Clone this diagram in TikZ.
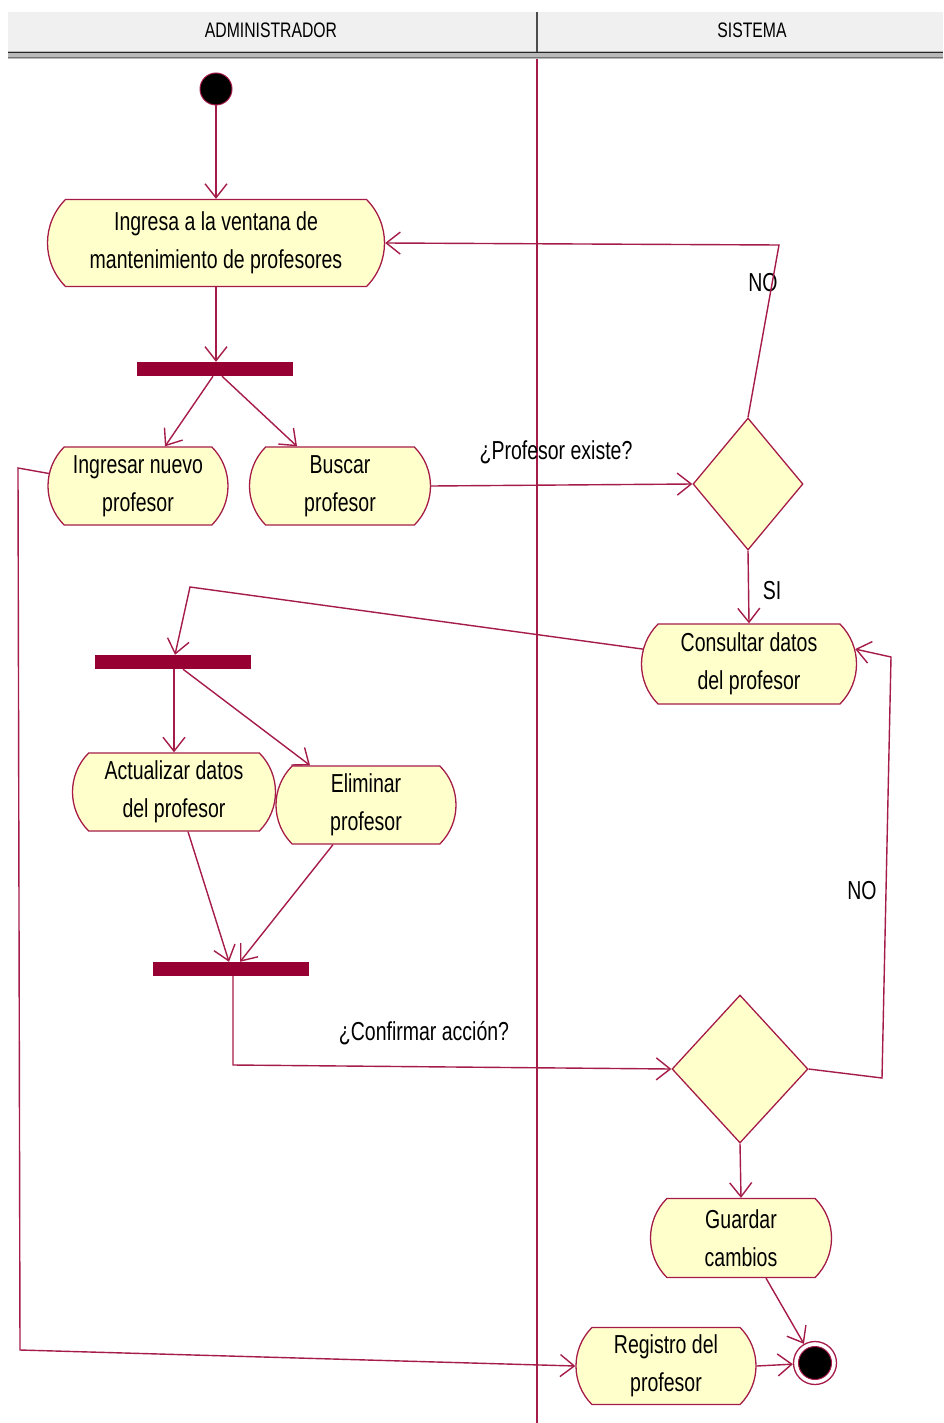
\documentclass[tikz,border=0pt]{standalone}
\usepackage{fontspec}
\setmainfont[FakeStretch=0.75]{Liberation Sans}
\usetikzlibrary{shapes.misc,shapes.geometric,arrows.meta}
\definecolor{ln}{RGB}{165,28,72}
\definecolor{barc}{RGB}{150,0,50}
\definecolor{act}{RGB}{255,255,204}
\definecolor{hdr}{RGB}{240,240,240}
\begin{document}
\begin{tikzpicture}[x=1pt,y=-1pt,
 activity/.style={draw=ln, fill=act, line width=1.3pt, rounded rectangle, rounded rectangle arc length=90, inner sep=0pt, align=center, font=\fontsize{26}{38}\selectfont},
 decision/.style={draw=ln, fill=act, diamond, line width=1.3pt, inner sep=0pt},
 forkbar/.style={fill=barc, minimum width=156pt, minimum height=14pt, inner sep=0pt},
 arr/.style={draw=ln, line width=1.4pt, -{Straight Barb[length=14pt,width=22pt]}},
 lab/.style={font=\fontsize{26}{30}\selectfont, inner sep=0pt},
 hdrtext/.style={font=\fontsize{21}{24}\selectfont, inner sep=0pt}]
\useasboundingbox (0,0) rectangle (943,1423);
\fill[white] (0,0) rectangle (943,1423);
% header
\fill[hdr] (8,12) rectangle (943,52);
\fill[gray!55] (8,51) rectangle (943,59);
\draw[gray!30!black, line width=1pt] (8,53) -- (943,53);
\draw[gray!90!black, line width=0.8pt] (8,57.5) -- (943,57.5);
\draw[gray!60!black, line width=1.5pt] (537,12) -- (537,52);
\node[hdrtext] (h1) at (271,30) {ADMINISTRADOR};
\node[hdrtext] (h2) at (752,30) {SISTEMA};
% swimlane separator
\draw[ln, line width=1.3pt] (537,59) -- (537,1423);

% nodes
\node[circle, fill=black, draw=ln, line width=1pt, minimum size=32pt, inner sep=0pt] (ini) at (216,89) {};
\node[activity, minimum width=337pt, minimum height=87pt] (a1) at (216,243) {Ingresa a la ventana de\\mantenimiento de profesores};
\node[forkbar] (b1) at (215,369) {};
\node[activity, minimum width=180pt, minimum height=78pt] (a2) at (138,486) {Ingresar nuevo\\profesor};
\node[activity, minimum width=181pt, minimum height=78pt] (a3) at (340,486) {Buscar\\profesor};
\node[decision, minimum width=110pt, minimum height=132pt] (d1) at (748,484) {};
\node[activity, minimum width=215pt, minimum height=80pt] (a4) at (749,664) {Consultar datos\\del profesor};
\node[forkbar] (b2) at (173,662) {};
\node[activity, minimum width=203pt, minimum height=78pt] (a5) at (174,792) {Actualizar datos\\del profesor};
\node[activity, minimum width=180pt, minimum height=78pt] (a6) at (366,805) {Eliminar\\profesor};
\node[forkbar] (b3) at (231,969) {};
\node[decision, minimum width=136pt, minimum height=148pt] (d2) at (740,1069) {};
\node[activity, minimum width=181pt, minimum height=79pt] (a7) at (741,1238) {Guardar\\cambios};
\node[activity, minimum width=180pt, minimum height=77pt] (a8) at (666,1366) {Registro del\\profesor};
\node[circle, draw=ln, line width=1.3pt, fill=white, minimum size=43pt, inner sep=0pt] (fin) at (815,1363) {};
\node[circle, draw=ln, line width=1pt, fill=black, minimum size=33pt, inner sep=0pt] (finin) at (fin) {};

% labels
\node[lab] (q1) at (556,452) {¿Profesor existe?};
\node[lab] (no1) at (763,283) {NO};
\node[lab] (si1) at (772,591) {SI};
\node[lab] (q2) at (424,1033) {¿Confirmar acción?};
\node[lab] (no2) at (862,891) {NO};

% coordinates for bends
\coordinate (c1) at (18,468);
\coordinate (c2) at (20,1350);
\coordinate (c3) at (779,245);
\coordinate (c4) at (190,587);
\coordinate (c5) at (233,1065);
\coordinate (c6) at (882,1078);
\coordinate (c7) at (891,657);

% connectors
\draw[arr] (ini) -- (a1.north);
\draw[arr] (a1.south) -- (a1.south |- b1.north);
\draw[arr] ([xshift=-2pt]b1.south) -- ([xshift=27pt]a2.north);
\draw[arr] ([xshift=7pt]b1.south) -- ([xshift=-43pt]a3.north);
\draw[arr] (a2.172) -- (c1) -- (c2) -- (a8.west);
\draw[arr] (a3.east) -- (d1.west);
\draw[arr] (d1.north) -- (c3) -- (a1.east);
\draw[arr] (d1.south) -- (a4.north);
\draw[arr] (a4.172) -- (c4) -- ([xshift=2pt]b2.north);
\draw[arr] (b2.south -| a5.north) -- (a5.north);
\draw[arr] ([xshift=10pt]b2.south) -- ([xshift=-56pt]a6.north);
\draw[arr] ([xshift=14pt]a5.south) -- ([xshift=-2pt]b3.north);
\draw[arr] ([xshift=-33pt]a6.south) -- ([xshift=9pt]b3.north);
\draw[arr] ([xshift=2pt]b3.south) -- (c5) -- (d2.west);
\draw[arr] (d2.east) -- (c6) -- (c7) -- (a4.8);
\draw[arr] (d2.south) -- (a7.north);
\draw[arr] ([xshift=25pt]a7.south) -- (fin);
\draw[arr] (a8.east) -- (fin);
\end{tikzpicture}
\end{document}
